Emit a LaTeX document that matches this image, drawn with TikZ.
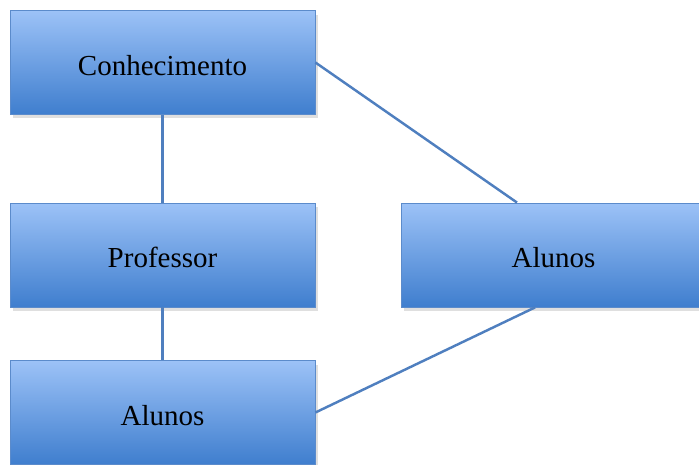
\documentclass[tikz,border=0pt]{standalone}
\usepackage{fontspec}
\setmainfont{Liberation Serif}
\usepackage{tikz}
\usetikzlibrary{shadows}

\definecolor{boxtop}{HTML}{9CC2F7}
\definecolor{boxbot}{HTML}{3F7ECE}
\definecolor{boxline}{HTML}{5B8BCB}
\definecolor{link}{HTML}{4F7FBF}

\begin{document}
\begin{tikzpicture}[
x=0.02cm, y=-0.02cm,
box/.style={draw=boxline, line width=0.5pt, top color=boxtop, bottom color=boxbot,
  minimum width=6.1cm, minimum height=2.08cm, inner sep=0pt,
  text height=14.5pt, text depth=0pt,
  font=\fontsize{16.5}{19}\selectfont,
  drop shadow={shadow xshift=0.6mm, shadow yshift=-0.8mm, opacity=0.25}},
conn/.style={draw=link, line width=1.4pt}
]
\useasboundingbox (0,0) rectangle (699,465);
\clip (0,0) rectangle (699,465);

\node[box] (con) at (162.5,62.5) {Conhecimento};
\node[box] (prof) at (162.5,255) {Professor};
\node[box] (alunosA) at (553.5,255) {Alunos};
\node[box] (alunosB) at (162.5,412.5) {Alunos};

\draw[conn] (con.south) -- (prof.north);
\draw[conn] (prof.south) -- (alunosB.north);
\draw[conn] (con.east) -- ([xshift=-7.3mm]alunosA.north);
\draw[conn] ([xshift=-3.7mm]alunosA.south) -- (alunosB.east);
\end{tikzpicture}
\end{document}
